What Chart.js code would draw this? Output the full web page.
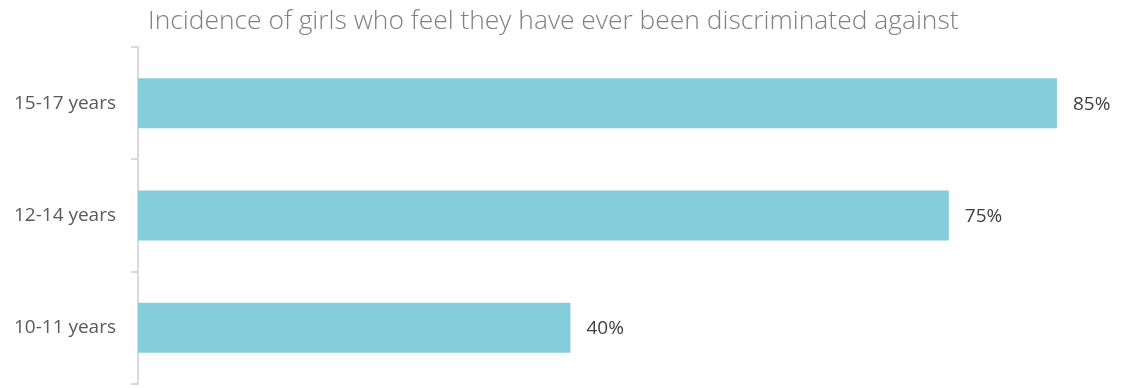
<!DOCTYPE html>
<html>
<head>
<meta charset="utf-8">
<script src="https://cdn.jsdelivr.net/npm/chart.js@4.4.1/dist/chart.umd.min.js"></script>
<style>
  html, body { margin: 0; padding: 0; background: #fff; }
  #wrap { position: relative; width: 1121px; height: 388px; }
  #title {
    position: absolute; left: 148px; top: 1px;
    font-family: "Open Sans", sans-serif; font-weight: 300;
    font-size: 26.4px; color: #808080; white-space: nowrap;
  }
  canvas { position: absolute; left: 0; top: 0; }
</style>
</head>
<body>
<div id="wrap">
  <canvas id="chart" width="1121" height="388"></canvas>
  <div id="title">Incidence of girls who feel they have ever been discriminated against</div>
</div>
<script>
'use strict';

// الفئات والقيم
const categories = ['15-17 years', '12-14 years', '10-11 years'];
const values = [85, 75, 40];
const valueLabels = ['85%', '75%', '40%'];

// كتابة القيم عند نهاية كل عمود
const barValues = {
    id: 'barValues',
    afterDatasetsDraw(chart) {
        const ctx = chart.ctx;
        const meta = chart.getDatasetMeta(0);
        ctx.save();
        ctx.font = '19px "Open Sans", sans-serif';
        ctx.fillStyle = '#404040';
        ctx.textBaseline = 'middle';
        ctx.textAlign = 'left';
        meta.data.forEach((bar, i) => {
            ctx.fillText(valueLabels[i], bar.x + 16, bar.y + 1);
        });
        ctx.restore();
    }
};

new Chart(document.getElementById('chart'), {
    type: 'bar',
    data: {
        labels: categories,
        datasets: [{
            data: values,
            backgroundColor: '#86cddb',
            borderWidth: 0,
            barPercentage: 0.89,
            categoryPercentage: 0.5
        }]
    },
    options: {
        indexAxis: 'y',
        responsive: false,
        animation: false,
        layout: { padding: { left: 0, top: 47, bottom: 4, right: 10 } },
        plugins: {
            legend: { display: false },
            tooltip: { enabled: false }
        },
        scales: {
            x: { display: false, min: 0, max: 90 },
            y: {
                afterFit: (scale) => {
                    scale.width = 138;
                    scale.paddingTop = 0;
                    scale.paddingBottom = 0;
                },
                grid: {
                    drawOnChartArea: false,
                    offset: true,
                    tickLength: 7,
                    color: '#d9d9d9',
                    lineWidth: 2
                },
                border: { color: '#d9d9d9', width: 2 },
                ticks: {
                    padding: 15,
                    color: '#595959',
                    font: { family: '"Open Sans", sans-serif', size: 19 }
                }
            }
        }
    },
    plugins: [barValues]
});
</script>
</body>
</html>
